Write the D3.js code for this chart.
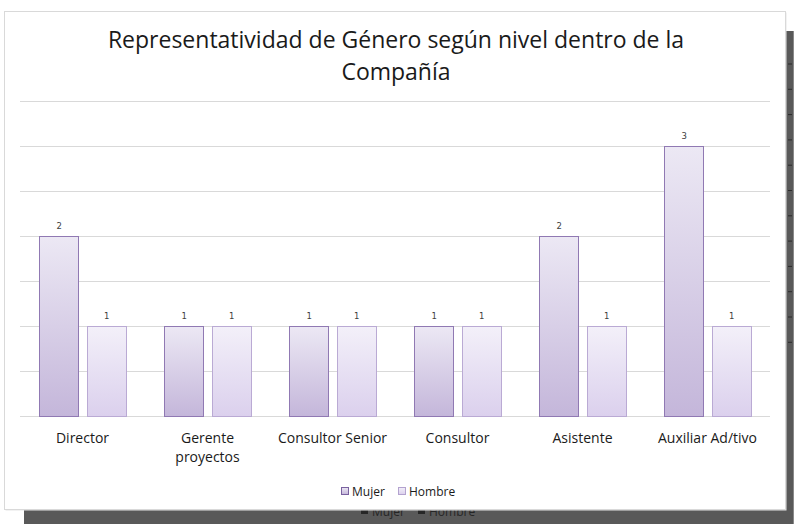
<!DOCTYPE html>
<html><head><meta charset="utf-8">
<script src="https://cdn.jsdelivr.net/npm/d3@7"></script>
<style>html,body{margin:0;padding:0;background:#fff;}svg{display:block;}</style>
</head><body>
<script>
const categories = ["Director", "Gerente proyectos", "Consultor Senior", "Consultor", "Asistente", "Auxiliar Ad/tivo"];
const categoryLines = [["Director"], ["Gerente", "proyectos"], ["Consultor Senior"], ["Consultor"], ["Asistente"], ["Auxiliar Ad/tivo"]];
const seriesNames = ["Mujer", "Hombre"];
const mujer = [2, 1, 1, 1, 2, 3];
const hombre = [1, 1, 1, 1, 1, 1];
const gridTicks = [0, 0.5, 1, 1.5, 2, 2.5, 3, 3.5];
const titleLines = ["Representatividad de Género según nivel dentro de la", "Compañía"];

const W = 794, H = 524;
const svg = d3.select("body").append("svg").attr("width", W).attr("height", H)
  .style("font-family", "'Open Sans', sans-serif");

const defs = svg.append("defs");
const gradM = defs.append("linearGradient").attr("id", "gM").attr("x1", 0).attr("y1", 0).attr("x2", 0).attr("y2", 1);
gradM.append("stop").attr("offset", "0%").attr("stop-color", "#ece8f4");
gradM.append("stop").attr("offset", "100%").attr("stop-color", "#c4b6da");
const gradH = defs.append("linearGradient").attr("id", "gH").attr("x1", 0).attr("y1", 0).attr("x2", 0).attr("y2", 1);
gradH.append("stop").attr("offset", "0%").attr("stop-color", "#f3f0f9");
gradH.append("stop").attr("offset", "100%").attr("stop-color", "#dbd0ed");

// background (dark) chart behind
svg.append("rect").attr("x", 24).attr("y", 31).attr("width", W - 24).attr("height", H - 31).attr("fill", "#595959");
svg.append("rect").attr("x", 793).attr("y", 31).attr("width", 1).attr("height", H - 31).attr("fill", "#8a8a8a");
const bgTicks = d3.range(12).map(i => 64 + i * 25.3);
svg.selectAll("line.bgt").data(bgTicks).join("line").attr("class", "bgt")
  .attr("x1", 788).attr("x2", 792).attr("y1", d => d).attr("y2", d => d)
  .attr("stroke", "#2b2b2b").attr("stroke-width", 1);
// background legend (mostly hidden by panel)
const bgLeg = svg.append("g").attr("transform", "translate(20,20)");
[[341, 352, "Mujer"], [398, 409, "Hombre"]].forEach(([sx, tx, t]) => {
  bgLeg.append("rect").attr("x", sx).attr("y", 487).attr("width", 7).attr("height", 7).attr("fill", "#262626");
  bgLeg.append("text").attr("x", tx).attr("y", 495.5).attr("font-size", 12).attr("fill", "#262626").text(t);
});

// main panel
svg.append("rect").attr("x", 5.5).attr("y", 12.5).attr("width", 781).attr("height", 498).attr("fill", "#e6e6e6");
svg.append("rect").attr("x", 4.5).attr("y", 11.5).attr("width", 781).attr("height", 498)
  .attr("fill", "#fff").attr("stroke", "#d9d9d9").attr("stroke-width", 1);

// title
svg.append("g").selectAll("text").data(titleLines).join("text")
  .attr("x", 396).attr("y", (d, i) => 48 + i * 32)
  .attr("text-anchor", "middle").attr("font-size", 23).attr("fill", "#1a1a1a")
  .text(d => d);

// scales
const x = d3.scaleBand().domain(categories).range([20, 770]).paddingInner(0).paddingOuter(0);
const xs = d3.scaleBand().domain(seriesNames).range([0, x.bandwidth()]).paddingInner(0.17).paddingOuter(0.4);
const y = d3.scaleLinear().domain([0, 3.5]).range([415.5, 100.5]);

// gridlines
svg.append("g").selectAll("line").data(gridTicks).join("line")
  .attr("x1", 20).attr("x2", 770)
  .attr("y1", d => Math.round(y(d)) + 0.5).attr("y2", d => Math.round(y(d)) + 0.5)
  .attr("stroke", "#d9d9d9").attr("stroke-width", 1);

const rows = [];
categories.forEach((c, i) => {
  rows.push({cat: c, s: "Mujer", v: mujer[i]});
  rows.push({cat: c, s: "Hombre", v: hombre[i]});
});

const bars = svg.append("g");
bars.selectAll("rect").data(rows).join("rect")
  .attr("x", d => Math.round(x(d.cat) + xs(d.s)) + 0.5)
  .attr("y", d => Math.round(y(d.v)) + 0.5)
  .attr("width", Math.round(xs.bandwidth()))
  .attr("height", d => Math.round(y(0)) - Math.round(y(d.v)))
  .attr("fill", d => d.s === "Mujer" ? "url(#gM)" : "url(#gH)")
  .attr("stroke", d => d.s === "Mujer" ? "#9079b3" : "#baaad4")
  .attr("stroke-width", 1);

svg.append("g").selectAll("text").data(rows).join("text")
  .attr("x", d => x(d.cat) + xs(d.s) + xs.bandwidth() / 2 + 0.5)
  .attr("y", d => y(d.v) - 7)
  .attr("text-anchor", "middle").attr("font-size", 8.5)
  .attr("font-family", "'DejaVu Sans', sans-serif").attr("fill", "#404040")
  .text(d => d.v);

// category labels
const xl = svg.append("g");
categories.forEach((c, i) => {
  xl.append("text").attr("x", x(c) + x.bandwidth() / 2).attr("y", 443)
    .attr("text-anchor", "middle").attr("font-size", 14).attr("fill", "#1a1a1a")
    .selectAll("tspan").data(categoryLines[i]).join("tspan")
    .attr("x", x(c) + x.bandwidth() / 2).attr("dy", (d, j) => j === 0 ? 0 : 19).text(d => d);
});

// legend
const leg = svg.append("g");
const legItems = [{s: "Mujer", sx: 341, tx: 352}, {s: "Hombre", sx: 398, tx: 409}];
legItems.forEach(it => {
  leg.append("rect").attr("x", it.sx + 0.5).attr("y", 487.5).attr("width", 7).attr("height", 7)
    .attr("fill", it.s === "Mujer" ? "url(#gM)" : "url(#gH)")
    .attr("stroke", it.s === "Mujer" ? "#7a62a0" : "#b3a2cf");
  leg.append("text").attr("x", it.tx).attr("y", 495.5).attr("font-size", 12).attr("fill", "#1a1a1a").text(it.s);
});
</script>
</body></html>
